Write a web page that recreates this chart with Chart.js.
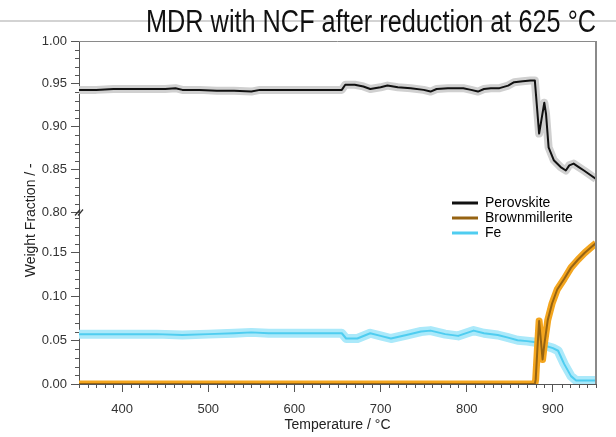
<!DOCTYPE html>
<html><head><meta charset="utf-8">
<script src="https://cdn.jsdelivr.net/npm/chart.js@4"></script>
<style>html,body{margin:0;padding:0;background:#fff}#wrap{width:616px;height:437px}</style>
</head><body><div id="wrap"><canvas id="c" width="616" height="437"></canvas></div>
<script>
const titleText = 'MDR with NCF after reduction at 625 °C';
const xTitle = 'Temperature / °C';
const yTitle = 'Weight Fraction / -';
const seriesNames = ['Perovskite', 'Brownmillerite', 'Fe'];

const xTickValues = [400, 500, 600, 700, 800, 900];
const yTopTicks = [0.80, 0.85, 0.90, 0.95, 1.00];
const yBotTicks = [0.00, 0.05, 0.10, 0.15];

const perovT = [350,370,390,410,430,450,462,470,490,510,530,550,560,580,600,620,640,655,659,670,680,688,700,708,720,735,750,758,765,778,796,805,813,820,828,838,848,855,865,874,879,884,887,890,892,895,901,909,915,919,924,930,936,943,950];
const perovVals = [0.943,0.943,0.944,0.944,0.944,0.944,0.945,0.943,0.943,0.942,0.942,0.941,0.943,0.943,0.943,0.943,0.943,0.943,0.949,0.949,0.947,0.944,0.946,0.948,0.946,0.945,0.943,0.941,0.944,0.945,0.945,0.943,0.941,0.944,0.945,0.945,0.948,0.952,0.953,0.954,0.954,0.892,0.910,0.928,0.915,0.876,0.861,0.853,0.849,0.855,0.857,0.853,0.849,0.844,0.839];

const feT = [350,380,410,440,470,500,530,550,570,600,630,655,660,673,688,700,712,730,747,758,775,790,808,820,836,848,859,870,878,890,900,906,913,921,927,935,950];
const feVals = [0.057,0.057,0.057,0.057,0.056,0.057,0.058,0.059,0.058,0.058,0.058,0.058,0.052,0.052,0.058,0.055,0.052,0.056,0.060,0.061,0.057,0.055,0.061,0.058,0.056,0.053,0.050,0.049,0.048,0.044,0.041,0.038,0.023,0.009,0.004,0.004,0.004];

const bmT = [350,879,880,882,884,886,888,890,894,899,905,913,921,929,937,944,950];
const bmVals = [0,0,0.005,0.040,0.072,0.050,0.028,0.045,0.073,0.092,0.108,0.120,0.133,0.142,0.150,0.156,0.161];

const pts = (xs, ys) => xs.map((x, i) => ({x: x, y: ys[i]}));
const common = {pointRadius: 0, pointHoverRadius: 0, tension: 0, fill: false, borderJoinStyle: 'round', borderCapStyle: 'butt'};

const datasets = [
  Object.assign({label: seriesNames[0], data: pts(perovT, perovVals), yAxisID: 'yTop', borderColor: '#111111', borderWidth: 2, order: 0}, common),
  Object.assign({label: seriesNames[1], data: pts(bmT, bmVals), yAxisID: 'yBot', borderColor: '#966312', borderWidth: 2, order: 0}, common),
  Object.assign({label: seriesNames[2], data: pts(feT, feVals), yAxisID: 'yBot', borderColor: '#4fcdf0', borderWidth: 2, order: 2}, common),
  Object.assign({label: 'band0', data: pts(perovT, perovVals), yAxisID: 'yTop', borderColor: '#d0d0d0', borderWidth: 8, order: 5}, common),
  Object.assign({label: 'band1', data: pts(bmT, bmVals), yAxisID: 'yBot', borderColor: '#f3a51e', borderWidth: 7, order: 1}, common),
  Object.assign({label: 'band2', data: pts(feT, feVals), yAxisID: 'yBot', borderColor: '#abe9fa', borderWidth: 9, order: 3}, common)
];

const titleFamily = "'Liberation Sans', Arial, sans-serif";
const titleSize = 31;
const titleTargetWidth = 450;
const titleScaleX = (() => {
  const c = document.createElement('canvas').getContext('2d');
  c.font = 'normal ' + titleSize + 'px ' + titleFamily;
  const w = c.measureText(titleText).width;
  return w > 0 ? Math.min(1, titleTargetWidth / w) : 1;
})();

const decor = {
  id: 'decor',
  beforeDraw(chart) {
    const ctx = chart.ctx;
    ctx.save();
    ctx.fillStyle = '#fff';
    ctx.fillRect(0, 0, chart.width, chart.height);
    ctx.strokeStyle = '#c4c4c4';
    ctx.lineWidth = 1.5;
    ctx.beginPath(); ctx.moveTo(0, 21); ctx.lineTo(chart.width, 21); ctx.stroke();
    ctx.restore();
  },
  afterLayout(chart) {
    const lg = chart.legend;
    if (lg) {
      const w = lg.width, h = lg.height;
      lg.left = 451; lg.top = 195; lg.right = 451 + w; lg.bottom = 195 + h;
    }
    const tb = chart.titleBlock;
    if (tb && !tb._narrowed) {
      const orig = tb.draw;
      tb.draw = function () {
        const ctx = this.ctx, r = this.right;
        ctx.save();
        ctx.translate(r, 0); ctx.scale(titleScaleX, 1); ctx.translate(-r, 0);
        orig.apply(this, arguments);
        ctx.restore();
      };
      tb._narrowed = true;
    }
  },
  afterDraw(chart) {
    const ctx = chart.ctx, ca = chart.chartArea;
    const sx = chart.scales.x, yt = chart.scales.yTop, yb = chart.scales.yBot;
    ctx.save();
    ctx.strokeStyle = '#8a8a8a';
    ctx.lineWidth = 1;
    ctx.beginPath(); ctx.moveTo(ca.left, ca.top + 0.5); ctx.lineTo(ca.right, ca.top + 0.5); ctx.stroke();
    ctx.lineWidth = 2;
    ctx.beginPath(); ctx.moveTo(ca.right, ca.top); ctx.lineTo(ca.right, ca.bottom); ctx.stroke();
    ctx.strokeStyle = '#555';
    ctx.lineWidth = 1;
    ctx.beginPath();
    for (let v = 350; v <= 950; v += 10) {
      if (v % 100 === 0) continue;
      const px = Math.round(sx.getPixelForValue(v)) + 0.5;
      ctx.moveTo(px, ca.bottom); ctx.lineTo(px, ca.bottom + 4);
    }
    for (let k = 80; k <= 100; k++) {
      if (k % 5 === 0) continue;
      const py = Math.round(yt.getPixelForValue(k / 100)) + 0.5;
      ctx.moveTo(ca.left - 4, py); ctx.lineTo(ca.left, py);
    }
    for (let k = 1; k <= 19; k++) {
      if (k % 5 === 0) continue;
      const py = Math.round(yb.getPixelForValue(k / 100)) + 0.5;
      ctx.moveTo(ca.left - 4, py); ctx.lineTo(ca.left, py);
    }
    ctx.stroke();
    const by = yt.bottom;
    ctx.strokeStyle = '#333';
    ctx.lineWidth = 1.2;
    ctx.beginPath();
    ctx.moveTo(ca.left - 4, by + 3); ctx.lineTo(ca.left + 1, by - 3);
    ctx.moveTo(ca.left - 1, by + 3); ctx.lineTo(ca.left + 4, by - 3);
    ctx.stroke();
    ctx.restore();
  }
};

Chart.defaults.font.family = "'Liberation Sans', Arial, sans-serif";

const axisGrid = {display: true, drawOnChartArea: false, drawTicks: true, tickLength: 8, tickColor: '#555', tickWidth: 1};
const axisBorder = {display: true, color: '#555', width: 1};

new Chart(document.getElementById('c'), {
  type: 'line',
  data: {datasets: datasets},
  plugins: [decor],
  options: {
    responsive: false,
    animation: false,
    devicePixelRatio: 1,
    layout: {padding: {left: 0, right: 20, top: 0, bottom: 0}},
    plugins: {
      title: {display: true, text: titleText, align: 'end', color: '#111',
        font: {family: titleFamily, size: titleSize, weight: 'normal', lineHeight: '36px'},
        padding: {top: 5, bottom: 0}},
      legend: {
        display: true, position: 'chartArea', align: 'start',
        labels: {
          boxWidth: 26, boxHeight: 3, padding: 1, color: '#222', font: {size: 14},
          generateLabels: (chart) => [0, 1, 2].map(i => {
            const ds = chart.data.datasets[i];
            return {text: ds.label, fillStyle: ds.borderColor, strokeStyle: ds.borderColor, lineWidth: 0, hidden: false, datasetIndex: i};
          })
        }
      },
      tooltip: {enabled: false}
    },
    scales: {
      x: {
        type: 'linear', position: 'bottom', min: 350, max: 950,
        grid: axisGrid, border: axisBorder,
        afterBuildTicks: s => { s.ticks = xTickValues.map(v => ({value: v})); },
        afterFit: s => { s.height = 53; },
        ticks: {padding: 10, color: '#333', font: {size: 13}, maxRotation: 0},
        title: {display: true, text: xTitle, color: '#222', font: {size: 14, lineHeight: 1.2}, padding: {top: 0, bottom: 3}}
      },
      yTitle: {
        type: 'linear', position: 'left', weight: 10, min: 0, max: 1,
        grid: {display: false}, border: {display: false}, ticks: {display: false},
        afterFit: s => { s.width = 39; },
        title: {display: true, text: yTitle + '    ', color: '#222', font: {size: 14, lineHeight: 1.2}, padding: {top: 23, bottom: 0}}
      },
      yBot: {
        type: 'linear', position: 'left', stack: 'ys', stackWeight: 1, min: 0, max: 0.196,
        grid: axisGrid, border: axisBorder,
        afterBuildTicks: s => { s.ticks = yBotTicks.map(v => ({value: v})); },
        afterFit: s => { s.width = 40; },
        ticks: {padding: 4, color: '#333', font: {size: 13}, callback: v => Number(v).toFixed(2)}
      },
      yTop: {
        type: 'linear', position: 'left', stack: 'ys', stackWeight: 1, min: 0.8, max: 1.0,
        grid: axisGrid, border: axisBorder,
        afterBuildTicks: s => { s.ticks = yTopTicks.map(v => ({value: v})); },
        afterFit: s => { s.width = 40; },
        ticks: {padding: 4, color: '#333', font: {size: 13}, callback: v => Number(v).toFixed(2)}
      }
    }
  }
});
</script>
</body></html>
